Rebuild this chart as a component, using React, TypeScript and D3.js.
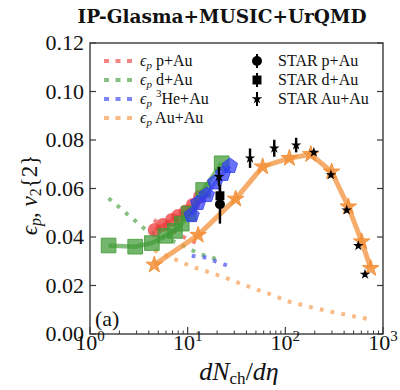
import React from "react";
import * as d3 from "d3";

// Hydro v2{2} (markers joined by lines) per collision system
const pAuN = [4.6, 5.6, 6.9, 8.0, 9.6, 11.3, 13.4];
const pAuV = [0.0429, 0.045, 0.047, 0.0487, 0.0505, 0.0532, 0.0566];

const dAuN = [1.55, 2.9, 4.3, 5.9, 7.4, 8.7, 10.3, 14.4, 22.3];
const dAuV = [0.0365, 0.036, 0.0375, 0.0405, 0.0425, 0.0455, 0.0497, 0.0594, 0.0704];

const heAuN = [11.0, 12.8, 15.7, 19.1, 23.0, 27.1];
const heAuV = [0.049, 0.054, 0.0573, 0.0625, 0.066, 0.0693];

const auAuN = [4.55, 12.8, 31, 58.6, 110, 182, 298, 441, 605, 748];
const auAuV = [0.0285, 0.0408, 0.0557, 0.069, 0.0725, 0.0741, 0.0669, 0.0525, 0.0381, 0.0271];

// Initial eccentricity ϵp (dotted curves)
const epsPAuN = [4.5, 6.7, 9.6, 13.5];
const epsPAuV = [0.047, 0.043, 0.0395, 0.0368];

const epsDAuN = [1.55, 2.53, 3.74, 8.0, 13.2, 21.4];
const epsDAuV = [0.056, 0.0487, 0.0429, 0.0374, 0.033, 0.0305];

const epsHeAuN = [11.0, 15.7, 19.1, 27.1];
const epsHeAuV = [0.0322, 0.0315, 0.03, 0.0278];

const epsAuAuN = [4.55, 11, 23.7, 39.6, 66, 110, 186, 315, 697];
const epsAuAuV = [0.0345, 0.0278, 0.0234, 0.0199, 0.0168, 0.0133, 0.011, 0.0089, 0.0062];

// STAR measurements
const starPAuN = [21.4];
const starPAuV = [0.0535];
const starPAuErr = [0.008];

const starDAuN = [21.4];
const starDAuV = [0.057];
const starDAuErr = [0.0035];

const starAuAuN = [20.9, 43.5, 77, 129, 196, 293, 425, 558, 654];
const starAuAuV = [0.0649, 0.0725, 0.0766, 0.0779, 0.0749, 0.0656, 0.0511, 0.0364, 0.0246];
const starAuAuErr = [0.004, 0.004, 0.0035, 0.003, 0.001, 0.001, 0.001, 0.001, 0.001];

const yTicks = [0, 0.02, 0.04, 0.06, 0.08, 0.1, 0.12];
const xMajor = [1, 10, 100, 1000];
const xMajorExp = ["0", "1", "2", "3"];

const RED = "#ec3a3a";
const GREEN = "#3f9a35";
const BLUE = "#2f3cf2";
const ORANGE = "#f3913a";

const SERIF = "'Liberation Serif', 'DejaVu Serif', serif";

const zip = (a: number[], b: number[]) => a.map((v, i) => [v, b[i]] as [number, number]);

function pentagon(r: number) {
  const pts: string[] = [];
  for (let k = 0; k < 5; k++) {
    const a = -Math.PI / 2 + (k * 2 * Math.PI) / 5;
    pts.push(`${(r * Math.cos(a)).toFixed(2)},${(r * Math.sin(a)).toFixed(2)}`);
  }
  return "M" + pts.join("L") + "Z";
}

export default function App() {
  const x = d3.scaleLog().domain([1, 1000]).range([90, 383]);
  const y = d3.scaleLinear().domain([0, 0.12]).range([334, 43]);
  const line = d3
    .line<[number, number]>()
    .x((d) => x(d[0]))
    .y((d) => y(d[1]));

  const star = (s: number) => d3.symbol(d3.symbolStar, s)() as string;
  const square = (s: number) => d3.symbol(d3.symbolSquare, s)() as string;

  const dotted = (n: number[], v: number[], c: string, key: string) => (
    <path
      key={key}
      d={line(zip(n, v)) as string}
      fill="none"
      stroke={c}
      strokeOpacity={0.62}
      strokeWidth={4}
      strokeDasharray="3.8,7.2"
    />
  );

  const minor = x.ticks().filter((t) => !xMajor.includes(t));

  const legendRows = [61, 80, 99, 118];
  const legendLeft = [
    { c: RED, label: <tspan> p+Au</tspan> },
    { c: GREEN, label: <tspan> d+Au</tspan> },
    {
      c: BLUE,
      label: (
        <>
          <tspan> </tspan>
          <tspan fontSize={11} dy={-7}>3</tspan>
          <tspan dy={7}>He+Au</tspan>
        </>
      ),
    },
    { c: ORANGE, label: <tspan> Au+Au</tspan> },
  ];

  return (
    <svg
      width={400}
      height={390}
      style={{ position: "absolute", left: 0, top: 0, background: "#fff" }}
      fontFamily={SERIF}
    >
      <rect x={0} y={0} width={400} height={390} fill="#fff" />
      <text
        x={222}
        y={23}
        textAnchor="middle"
        fontFamily="'DejaVu Serif', serif"
        fontWeight="bold"
        fontSize={18.5}
        fill="#111"
      >
        IP-Glasma+MUSIC+UrQMD
      </text>

      {/* dotted ϵp curves */}
      {dotted(epsPAuN, epsPAuV, RED, "er")}
      {dotted(epsDAuN, epsDAuV, GREEN, "eg")}
      {dotted(epsHeAuN, epsHeAuV, BLUE, "eb")}
      {dotted(epsAuAuN, epsAuAuV, ORANGE, "eo")}

      {/* p+Au */}
      <path d={line(zip(pAuN, pAuV)) as string} fill="none" stroke={RED} strokeOpacity={0.6} strokeWidth={4} />
      {pAuN.map((n, i) => (
        <circle key={"pc" + i} cx={x(n)} cy={y(pAuV[i])} r={7} fill={RED} fillOpacity={0.75} />
      ))}

      {/* d+Au */}
      <path d={line(zip(dAuN, dAuV)) as string} fill="none" stroke={GREEN} strokeOpacity={0.65} strokeWidth={4.5} />
      {dAuN.map((n, i) => (
        <path
          key={"ds" + i}
          d={square(215)}
          transform={`translate(${x(n)},${y(dAuV[i])})`}
          fill={GREEN}
          fillOpacity={0.72}
          stroke={GREEN}
          strokeOpacity={0.8}
          strokeWidth={1}
        />
      ))}

      {/* 3He+Au */}
      <path d={line(zip(heAuN, heAuV)) as string} fill="none" stroke={BLUE} strokeOpacity={0.6} strokeWidth={4} />
      {heAuN.map((n, i) => (
        <path
          key={"hp" + i}
          d={pentagon(8)}
          transform={`translate(${x(n)},${y(heAuV[i])})`}
          fill={BLUE}
          fillOpacity={0.72}
          stroke={BLUE}
          strokeOpacity={0.8}
          strokeWidth={1}
        />
      ))}

      {/* Au+Au */}
      <path d={line(zip(auAuN, auAuV)) as string} fill="none" stroke={ORANGE} strokeOpacity={0.75} strokeWidth={5} />
      {auAuN.map((n, i) => (
        <path
          key={"as" + i}
          d={star(85)}
          transform={`translate(${x(n)},${y(auAuV[i])})`}
          fill={ORANGE}
          fillOpacity={0.85}
          stroke={ORANGE}
          strokeWidth={1}
        />
      ))}

      {/* STAR data */}
      {starPAuN.map((n, i) => (
        <g key={"sp" + i}>
          <line x1={x(n)} x2={x(n)} y1={y(starPAuV[i] - starPAuErr[i])} y2={y(starPAuV[i] + starPAuErr[i])} stroke="#000" strokeWidth={2.4} />
          <circle cx={x(n)} cy={y(starPAuV[i])} r={5} fill="#000" />
        </g>
      ))}
      {starDAuN.map((n, i) => (
        <g key={"sd" + i}>
          <line x1={x(n)} x2={x(n)} y1={y(starDAuV[i] - starDAuErr[i])} y2={y(starDAuV[i] + starDAuErr[i])} stroke="#000" strokeWidth={2.4} />
          <path d={square(80)} transform={`translate(${x(n)},${y(starDAuV[i])})`} fill="#000" />
        </g>
      ))}
      {starAuAuN.map((n, i) => (
        <g key={"sa" + i}>
          <line x1={x(n)} x2={x(n)} y1={y(starAuAuV[i] - starAuAuErr[i])} y2={y(starAuAuV[i] + starAuAuErr[i])} stroke="#000" strokeWidth={2.4} />
          <path d={star(34)} transform={`translate(${x(n)},${y(starAuAuV[i])})`} fill="#000" />
        </g>
      ))}

      {/* frame */}
      <rect x={90} y={43} width={293} height={291} fill="none" stroke="#3a3a3a" strokeWidth={1.4} />

      {/* y ticks */}
      {yTicks.map((t) => (
        <g key={"yt" + t}>
          <line x1={90} x2={96} y1={y(t)} y2={y(t)} stroke="#3a3a3a" strokeWidth={1.2} />
          <line x1={377} x2={383} y1={y(t)} y2={y(t)} stroke="#3a3a3a" strokeWidth={1.2} />
          <text x={84} y={y(t) + 7} textAnchor="end" fontSize={22} fill="#111">
            {d3.format(".2f")(t)}
          </text>
        </g>
      ))}

      {/* x ticks */}
      {xMajor.map((t, i) => (
        <g key={"xt" + t}>
          <line x1={x(t)} x2={x(t)} y1={334} y2={327} stroke="#3a3a3a" strokeWidth={1.2} />
          <text x={x(t)} y={350} textAnchor="middle" fontSize={22} fill="#111">
            10
            <tspan fontSize={15} dy={-9}>
              {xMajorExp[i]}
            </tspan>
          </text>
        </g>
      ))}
      {minor.map((t) => (
        <line key={"xm" + t} x1={x(t)} x2={x(t)} y1={334} y2={330.5} stroke="#3a3a3a" strokeWidth={1} />
      ))}

      <text x={95} y={326} fontSize={22} fill="#111">(a)</text>

      {/* axis titles */}
      <text x={239} y={380} textAnchor="middle" fontSize={26} fill="#111">
        <tspan fontStyle="italic">dN</tspan>
        <tspan fontSize={17} dy={4}>ch</tspan>
        <tspan dy={-4}>/</tspan>
        <tspan fontStyle="italic">dη</tspan>
      </text>
      <text transform="translate(37,195) rotate(-90)" textAnchor="middle" fontSize={23} fill="#111">
        <tspan fontStyle="italic">ϵ</tspan>
        <tspan fontStyle="italic" fontSize={16} dy={4}>p</tspan>
        <tspan dy={-4}>, </tspan>
        <tspan fontStyle="italic">v</tspan>
        <tspan fontSize={16} dy={4}>2</tspan>
        <tspan dy={-4}>{"{2}"}</tspan>
      </text>

      {/* legend */}
      {legendLeft.map((e, i) => (
        <g key={"ll" + i}>
          <line
            x1={104}
            x2={135}
            y1={legendRows[i]}
            y2={legendRows[i]}
            stroke={e.c}
            strokeOpacity={0.62}
            strokeWidth={4}
            strokeDasharray="5,6.5"
          />
          <text x={140} y={legendRows[i] + 5} fontSize={16} fill="#111">
            <tspan fontStyle="italic">ϵ</tspan>
            <tspan fontStyle="italic" fontSize={11} dy={3}>p</tspan>
            <tspan dy={-3}> </tspan>
            {e.label}
          </text>
        </g>
      ))}
      <g>
        <line x1={257} x2={257} y1={legendRows[0] - 7} y2={legendRows[0] + 7} stroke="#000" strokeWidth={2} />
        <circle cx={257} cy={legendRows[0]} r={5} fill="#000" />
        <text x={278} y={legendRows[0] + 5} fontSize={16} fill="#111">STAR p+Au</text>

        <line x1={257} x2={257} y1={legendRows[1] - 7} y2={legendRows[1] + 7} stroke="#000" strokeWidth={2} />
        <path d={square(80)} transform={`translate(257,${legendRows[1]})`} fill="#000" />
        <text x={278} y={legendRows[1] + 5} fontSize={16} fill="#111">STAR d+Au</text>

        <line x1={257} x2={257} y1={legendRows[2] - 7} y2={legendRows[2] + 7} stroke="#000" strokeWidth={2} />
        <path d={star(34)} transform={`translate(257,${legendRows[2]})`} fill="#000" />
        <text x={278} y={legendRows[2] + 5} fontSize={16} fill="#111">STAR Au+Au</text>
      </g>
    </svg>
  );
}
